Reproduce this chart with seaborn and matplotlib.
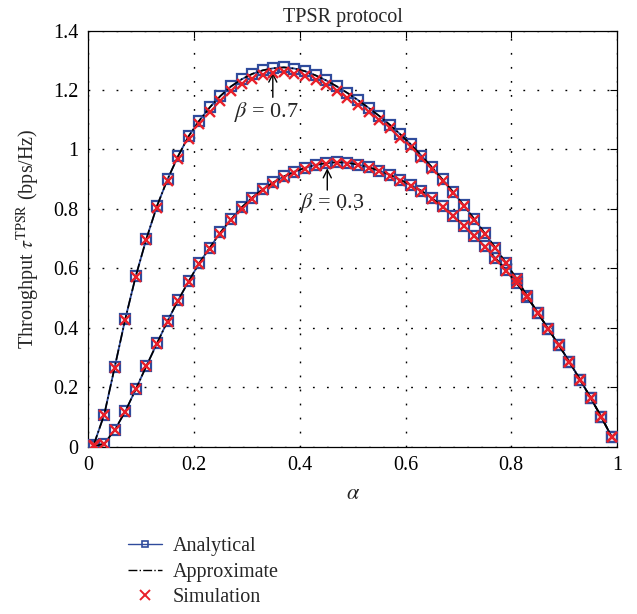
import numpy as np
import pandas as pd
import matplotlib
matplotlib.use("Agg")
import matplotlib.pyplot as plt
import seaborn as sns
from matplotlib.lines import Line2D

# ---------------- data ----------------
alpha = [0.01, 0.03, 0.05, 0.07, 0.09, 0.11, 0.13, 0.15, 0.17, 0.19,
         0.21, 0.23, 0.25, 0.27, 0.29, 0.31, 0.33, 0.35, 0.37, 0.39,
         0.41, 0.43, 0.45, 0.47, 0.49, 0.51, 0.53, 0.55, 0.57, 0.59,
         0.61, 0.63, 0.65, 0.67, 0.69, 0.71, 0.73, 0.75, 0.77, 0.79,
         0.81, 0.83, 0.85, 0.87, 0.89, 0.91, 0.93, 0.95, 0.97, 0.99]

analytical_b07 = [0.005, 0.107, 0.268, 0.430, 0.575, 0.700, 0.810, 0.900, 0.978, 1.045,
                  1.097, 1.142, 1.180, 1.212, 1.236, 1.254, 1.266, 1.273, 1.276, 1.272,
                  1.263, 1.249, 1.232, 1.212, 1.190, 1.166, 1.140, 1.113, 1.083, 1.051,
                  1.017, 0.979, 0.940, 0.899, 0.857, 0.812, 0.766, 0.718, 0.669, 0.618,
                  0.565, 0.507, 0.451, 0.396, 0.342, 0.285, 0.226, 0.165, 0.101, 0.033]

analytical_b03 = [0.001, 0.010, 0.056, 0.119, 0.194, 0.272, 0.348, 0.423, 0.493, 0.557,
                  0.618, 0.670, 0.721, 0.765, 0.805, 0.838, 0.866, 0.889, 0.909, 0.925,
                  0.938, 0.948, 0.954, 0.957, 0.955, 0.949, 0.940, 0.929, 0.915, 0.898,
                  0.880, 0.861, 0.836, 0.808, 0.777, 0.744, 0.710, 0.674, 0.635, 0.593,
                  0.550, 0.503, 0.451, 0.396, 0.342, 0.285, 0.226, 0.165, 0.101, 0.033]

approx_b07 = analytical_b07
approx_b03 = analytical_b03

simulation_b07 = [0.005, 0.105, 0.265, 0.425, 0.570, 0.694, 0.803, 0.893, 0.968, 1.035,
                  1.085, 1.127, 1.164, 1.195, 1.219, 1.237, 1.249, 1.256, 1.259, 1.255,
                  1.246, 1.232, 1.215, 1.196, 1.174, 1.150, 1.126, 1.100, 1.071, 1.040,
                  1.007, 0.970, 0.933, 0.893, 0.852, 0.808, 0.763, 0.716, 0.667, 0.617,
                  0.564, 0.506, 0.450, 0.395, 0.341, 0.284, 0.225, 0.164, 0.100, 0.032]

simulation_b03 = [0.001, 0.010, 0.055, 0.118, 0.193, 0.270, 0.346, 0.420, 0.490, 0.554,
                  0.614, 0.666, 0.717, 0.761, 0.801, 0.834, 0.862, 0.885, 0.905, 0.921,
                  0.934, 0.944, 0.950, 0.953, 0.951, 0.946, 0.937, 0.926, 0.912, 0.895,
                  0.877, 0.858, 0.834, 0.806, 0.775, 0.742, 0.708, 0.672, 0.633, 0.592,
                  0.549, 0.502, 0.450, 0.395, 0.341, 0.284, 0.225, 0.164, 0.100, 0.032]

x_ticks = [0, 0.2, 0.4, 0.6, 0.8, 1]
x_ticklabels = ["0", "0.2", "0.4", "0.6", "0.8", "1"]
y_ticks = [0, 0.2, 0.4, 0.6, 0.8, 1.0, 1.2, 1.4]
y_ticklabels = ["0", "0.2", "0.4", "0.6", "0.8", "1", "1.2", "1.4"]

# ---------------- style ----------------
sns.set_style("white")
plt.rcParams["font.family"] = ["Liberation Serif", "DejaVu Serif"]
plt.rcParams["mathtext.fontset"] = "stix"
plt.rcParams["font.size"] = 14.5

BLUE = "#2f4b9c"
RED = "#e8202a"

fig = plt.figure(figsize=(6.37, 6.14), dpi=100)
ax = fig.add_axes([88.3 / 637, 1 - 446.7 / 614, (617 - 88.3) / 637, (446.7 - 30.5) / 614])

for yv in (analytical_b07, analytical_b03):
    sns.lineplot(x=alpha, y=yv, ax=ax, color=BLUE, lw=1.3, marker="s",
                 markersize=7.2, markerfacecolor="none", markeredgecolor=BLUE,
                 markeredgewidth=1.6, zorder=3)
for yv in (approx_b07, approx_b03):
    sns.lineplot(x=alpha, y=yv, ax=ax, color="black", lw=1.2, linestyle="-.",
                 zorder=4)
for yv in (simulation_b07, simulation_b03):
    sns.lineplot(x=alpha, y=yv, ax=ax, color=RED, linestyle="none", marker="x",
                 markersize=7, markeredgewidth=1.7, markeredgecolor=RED, zorder=5)

ax.set_xlim(0, 1)
ax.set_ylim(0, 1.4)
ax.set_xticks(x_ticks)
ax.set_xticklabels(x_ticklabels)
ax.set_yticks(y_ticks)
ax.set_yticklabels(y_ticklabels)
ax.tick_params(direction="in", length=5, width=0.8, top=True, right=True,
               labelsize=14.5, pad=7, colors="black")
for s in ax.spines.values():
    s.set_visible(True)
    s.set_color("black")
    s.set_linewidth(0.9)
ax.grid(True, color="black", linestyle=(0, (1.3, 8.8)), linewidth=1.0)

ax.set_title("TPSR protocol", fontsize=14.5, pad=6, x=0.482)
ax.set_xlabel(r"$\alpha$", fontsize=16, labelpad=7)
ax.set_ylabel(r"Throughput $\tau^{\mathrm{TPSR}}$ (bps/Hz)", fontsize=14.5, labelpad=8)

ax.annotate("", xy=(0.349, 1.268), xytext=(0.349, 1.166),
            arrowprops=dict(arrowstyle="->", color="black", lw=1.0))
ax.text(0.3376, 1.127, r"$\beta$ = 0.7", ha="center", va="center", fontsize=16)
ax.annotate("", xy=(0.452, 0.946), xytext=(0.452, 0.854),
            arrowprops=dict(arrowstyle="->", color="black", lw=1.0))
ax.text(0.4606, 0.819, r"$\beta$ = 0.3", ha="center", va="center", fontsize=16)

handles = [
    Line2D([], [], color=BLUE, lw=1.0, marker="s", markersize=5,
           markerfacecolor="none", markeredgecolor=BLUE, markeredgewidth=1.2),
    Line2D([], [], color="black", lw=1.0, linestyle="-."),
    Line2D([], [], color=RED, linestyle="none", marker="x", markersize=7,
           markeredgewidth=1.4),
]
fig.legend(handles, ["Analytical", "Approximate", "Simulation"],
           loc="upper left", bbox_to_anchor=(128 / 637, 1 - 537 / 614),
           frameon=False, fontsize=14.5, handlelength=1.7, handletextpad=0.5,
           labelspacing=0.32, borderpad=0, borderaxespad=0)

fig.savefig("out.png", dpi=100)
